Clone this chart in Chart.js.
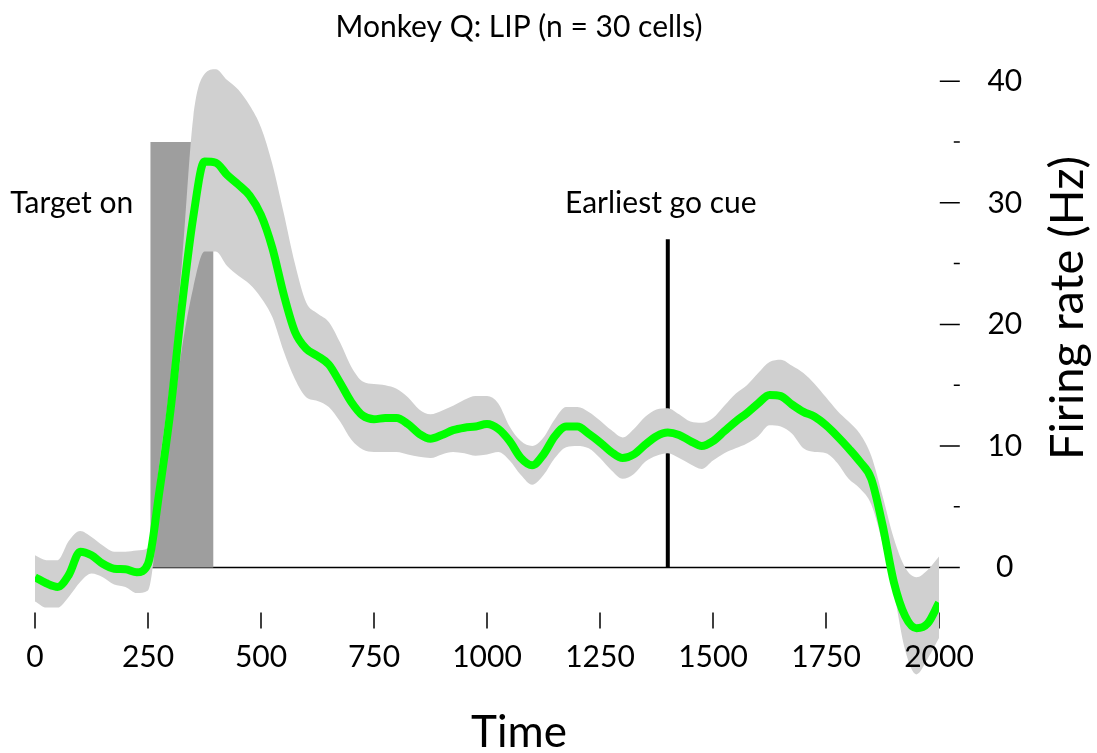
<!DOCTYPE html>
<html>
<head>
<meta charset="utf-8">
<script src="https://cdn.jsdelivr.net/npm/chart.js@4.4.0/dist/chart.umd.min.js"></script>
<style>
html, body { margin: 0; padding: 0; background: #fff; }
</style>
</head>
<body>
<canvas id="myChart" width="1097" height="753"></canvas>
<script>
// time axis (ms), one value every 25 ms
var Time = [];
for (var t = 0; t <= 2000; t += 25) Time.push(t);

// mean firing rate (Hz)
var Mean = [-0.8, -1.3, -1.6, -0.6, 1.3, 1.0, 0.3, -0.1, -0.15, -0.4,
  0.3, 6.2, 13.0, 21.5, 28.8, 33.4, 33.3, 32.3, 31.5, 30.6,
  29.0, 26.3, 22.5, 19.4, 18.0, 17.4, 16.7, 15.2, 13.6, 12.5,
  12.2, 12.3, 12.3, 11.8, 11.0, 10.6, 10.9, 11.3, 11.5, 11.6,
  11.8, 11.4, 10.4, 9.0, 8.4, 9.3, 10.8, 11.6, 11.6, 11.0,
  10.3, 9.5, 9.0, 9.3, 10.1, 10.8, 11.1, 10.9, 10.4, 10.0,
  10.4, 11.2, 12.0, 12.7, 13.5, 14.2, 14.1, 13.4, 12.8, 12.4,
  11.7, 10.8, 9.8, 8.7, 7.3, 3.5, -1.2, -4.0, -5.0, -4.6,
  -2.9];

// upper edge of error band
var Upper = [1.0, 0.6, 0.6, 2.2, 3.0, 2.5, 1.8, 1.3, 1.3, 1.4,
  1.6, 8.5, 15.5, 25.0, 37.0, 40.6, 41.0, 40.1, 39.3, 38.0,
  36.2, 33.2, 29.2, 25.0, 21.8, 20.9, 20.2, 18.5, 16.5, 15.3,
  15.1, 15.0, 14.7, 14.0, 13.0, 12.6, 12.9, 13.3, 13.8, 14.1,
  14.1, 13.5, 11.6, 10.4, 10.0, 10.7, 12.2, 13.2, 13.2, 12.8,
  12.1, 11.3, 10.7, 11.4, 12.4, 13.0, 13.1, 12.6, 12.0, 11.9,
  12.3, 13.3, 14.3, 15.0, 16.0, 16.9, 17.1, 16.6, 16.0, 15.1,
  14.0, 12.9, 12.0, 11.0, 9.2, 5.9, 2.4, 0.0, -0.8, -0.2,
  0.9];

// lower edge of error band
var Lower = [-2.8, -3.3, -3.3, -2.4, -1.2, -0.5, -0.8, -1.4, -1.6, -2.1,
  -1.9, 4.5, 11.0, 18.0, 23.0, 26.0, 26.0, 24.8, 24.0, 23.3,
  22.2, 20.6, 17.8, 15.5, 14.0, 13.7, 13.2, 12.0, 10.5, 9.7,
  9.5, 9.5, 9.5, 9.3, 9.1, 9.0, 9.3, 9.5, 9.4, 9.2,
  9.3, 9.5, 8.8, 7.6, 6.8, 7.6, 9.0, 9.9, 10.0, 9.8,
  9.0, 8.0, 7.3, 7.7, 8.7, 9.2, 9.4, 9.0, 8.5, 8.1,
  8.8, 9.4, 9.8, 10.2, 10.8, 11.7, 11.6, 11.0, 9.8, 9.5,
  9.4, 8.6, 7.3, 6.5, 5.2, 2.0, -2.0, -6.8, -8.8, -7.5,
  -5.8];

// target-on window and go cue
var TargetOn = [255, 395];
var TargetHeight = 35;
var GoCue = 1400;
var GoCueHeight = 27;

var XTicks = [0, 250, 500, 750, 1000, 1250, 1500, 1750, 2000];
var YTicks = [0, 10, 20, 30, 40];
var YMinor = [5, 15, 25, 35];

function pts(ys) {
  return Time.map(function (t, i) { return { x: t, y: ys[i] }; });
}

var FONT = 'Lato, "Open Sans", sans-serif';
var xAxisAt = -3.7;   // y value where x ticks start
var yAxisAt = 2046;   // x value of right axis

var axesPlugin = {
  id: 'axesPlugin',
  beforeDatasetsDraw: function (chart) {
    var ctx = chart.ctx, x = chart.scales.x, y = chart.scales.y;
    var ax = x.getPixelForValue(yAxisAt);
    var y0 = y.getPixelForValue(0);
    var tickTop = y.getPixelForValue(xAxisAt);
    ctx.save();
    ctx.strokeStyle = '#000';
    ctx.lineWidth = 1.5;
    ctx.beginPath();
    ctx.moveTo(x.getPixelForValue(0), y0);
    ctx.lineTo(ax, y0);
    XTicks.forEach(function (v) {
      var px = x.getPixelForValue(v);
      ctx.moveTo(px, tickTop);
      ctx.lineTo(px, tickTop + 16);
    });
    YTicks.forEach(function (v) {
      var py = y.getPixelForValue(v);
      ctx.moveTo(ax - 20, py);
      ctx.lineTo(ax, py);
    });
    YMinor.forEach(function (v) {
      var py = y.getPixelForValue(v);
      ctx.moveTo(ax - 6, py);
      ctx.lineTo(ax, py);
    });
    ctx.stroke();
    ctx.restore();
  },
  afterDraw: function (chart) {
    var ctx = chart.ctx, x = chart.scales.x, y = chart.scales.y;
    var ax = x.getPixelForValue(yAxisAt);
    var tickTop = y.getPixelForValue(xAxisAt);
    ctx.save();
    ctx.fillStyle = '#000';
    ctx.textBaseline = 'middle';
    ctx.font = '30px ' + FONT;
    ctx.textAlign = 'center';
    XTicks.forEach(function (v) {
      ctx.fillText(String(v), x.getPixelForValue(v), tickTop + 45);
    });
    YTicks.forEach(function (v) {
      ctx.fillText(String(v), ax + 45, y.getPixelForValue(v));
    });

    ctx.font = '30px ' + FONT;
    ctx.fillText('Monkey Q: LIP (n = 30 cells)', 519, 27);
    ctx.fillText('Earliest go cue', x.getPixelForValue(GoCue) - 7, y.getPixelForValue(30));
    ctx.textAlign = 'right';
    ctx.fillText('Target on', x.getPixelForValue(TargetOn[0]) - 17, y.getPixelForValue(30));

    ctx.textAlign = 'center';
    ctx.font = '44px ' + FONT;
    ctx.fillText('Time', 519, 733);
    ctx.font = '47px ' + FONT;
    ctx.translate(1068, 308);
    ctx.rotate(-Math.PI / 2);
    ctx.fillText('Firing rate (Hz)', 0, 0);
    ctx.restore();
  }
};

new Chart('myChart', {
  type: 'line',
  data: {
    datasets: [{
      data: pts(Mean),
      borderColor: '#00ff00',
      borderWidth: 8,
      cubicInterpolationMode: 'monotone',
      pointRadius: 0,
      fill: false,
      order: 0
    }, {
      data: pts(Upper),
      borderWidth: 0,
      borderColor: 'rgba(0,0,0,0)',
      backgroundColor: '#d0d0d0',
      cubicInterpolationMode: 'monotone',
      pointRadius: 0,
      fill: '+1',
      order: 1
    }, {
      data: pts(Lower),
      borderWidth: 0,
      borderColor: 'rgba(0,0,0,0)',
      cubicInterpolationMode: 'monotone',
      pointRadius: 0,
      fill: false,
      order: 1
    }, {
      data: [{ x: TargetOn[0], y: 0 }, { x: TargetOn[0], y: TargetHeight },
             { x: TargetOn[1], y: TargetHeight }, { x: TargetOn[1], y: 0 }],
      borderWidth: 0,
      borderColor: 'rgba(0,0,0,0)',
      backgroundColor: '#9e9e9e',
      tension: 0,
      pointRadius: 0,
      fill: 'origin',
      order: 2
    }, {
      data: [{ x: GoCue, y: 0 }, { x: GoCue, y: GoCueHeight }],
      borderColor: '#000',
      borderWidth: 4,
      tension: 0,
      pointRadius: 0,
      fill: false,
      order: 3
    }]
  },
  options: {
    responsive: false,
    animation: false,
    events: [],
    layout: { padding: { left: 35, right: 158, top: 57, bottom: 64 } },
    plugins: { legend: { display: false }, tooltip: { enabled: false }, title: { display: false } },
    scales: {
      x: { type: 'linear', min: 0, max: 2000, display: false },
      y: { type: 'linear', min: -10, max: 42, display: false }
    }
  },
  plugins: [axesPlugin]
});
</script>
</body>
</html>
